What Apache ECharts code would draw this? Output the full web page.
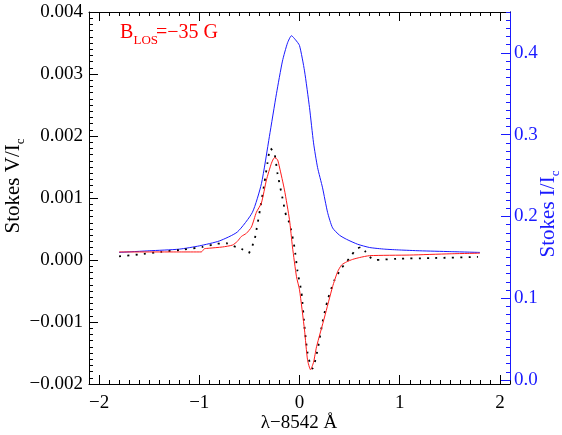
<!DOCTYPE html>
<html><head><meta charset="utf-8">
<script src="https://cdn.jsdelivr.net/npm/echarts@6/dist/echarts.min.js"></script>
<style>html,body{margin:0;padding:0;background:#fff}#c{width:562px;height:435px}</style>
</head><body><div id="c"></div>
<script>
// ---- data ----
const xTickValues = [-2, -1, 0, 1, 2];
const vTickValues = [-0.002, -0.001, 0.000, 0.001, 0.002, 0.003, 0.004];
const iTickValues = [0.0, 0.1, 0.2, 0.3, 0.4];

// Stokes I / Ic (blue, right axis)
const stokesIX = [-1.8, -1.5, -1.2, -1.0, -0.8, -0.62, -0.47, -0.38, -0.30, -0.23, -0.17, -0.12, -0.08, -0.04, 0.0, 0.05, 0.10, 0.14, 0.18, 0.23, 0.28, 0.33, 0.40, 0.47, 0.58, 0.70, 0.85, 1.0, 1.2, 1.5, 1.8];
const stokesIY = [0.156, 0.158, 0.160, 0.164, 0.170, 0.181, 0.205, 0.240, 0.298, 0.350, 0.390, 0.412, 0.421, 0.416, 0.409, 0.378, 0.333, 0.290, 0.260, 0.235, 0.205, 0.186, 0.177, 0.172, 0.166, 0.162, 0.160, 0.159, 0.158, 0.157, 0.156];

// Stokes V / Ic model (red solid)
const vModelX = [-1.8, -1.2, -0.98, -0.95, -0.9, -0.77, -0.67, -0.62, -0.58, -0.53, -0.48, -0.43, -0.38, -0.33, -0.28, -0.25, -0.22, -0.20, -0.15, -0.10, -0.07, -0.03, 0.00, 0.05, 0.08, 0.11, 0.14, 0.17, 0.25, 0.33, 0.38, 0.42, 0.47, 0.53, 0.60, 0.70, 1.1, 1.5, 1.8];
const vModelY = [0.00013, 0.00013, 0.00013, 0.00018, 0.00019, 0.00021, 0.00024, 0.00030, 0.00038, 0.00043, 0.00053, 0.00077, 0.00092, 0.00129, 0.00156, 0.00165, 0.00162, 0.00150, 0.00113, 0.00065, 0.00021, -0.00027, -0.00048, -0.00113, -0.00161, -0.00177, -0.00165, -0.00140, -0.00092, -0.00043, -0.00019, -0.00008, -0.00003, 0.00001, 0.00004, 0.00007, 0.00008, 0.00010, 0.00011];

// Stokes V / Ic observed (black dotted)
const vObsX = [-1.8, -1.6, -1.38, -1.15, -0.97, -0.83, -0.73, -0.67, -0.58, -0.51, -0.45, -0.43, -0.39, -0.35, -0.32, -0.29, -0.25, -0.22, -0.17, -0.13, -0.10, -0.05, -0.02, 0.02, 0.05, 0.08, 0.11, 0.13, 0.18, 0.23, 0.28, 0.35, 0.42, 0.47, 0.52, 0.57, 0.62, 0.66, 0.70, 0.75, 0.97, 1.3, 1.78];
const vObsY = [0.00006, 0.00009, 0.00013, 0.00017, 0.00021, 0.00026, 0.00027, 0.00023, 0.00018, 0.00011, 0.00032, 0.00048, 0.00085, 0.00124, 0.00156, 0.00180, 0.00172, 0.00140, 0.00100, 0.00069, 0.00060, 0.00020, -0.00018, -0.00053, -0.00108, -0.00150, -0.00170, -0.00175, -0.00145, -0.00100, -0.00065, -0.00032, -0.00013, -0.00003, 0.00008, 0.00018, 0.00021, 0.00013, 0.00005, 0.00000, 0.00002, 0.00003, 0.00005];

// ---- layout ----
const FONT = 'Liberation Serif';
const FS = 19;
const TFS = 21;
const L = 89, R = 52, T = 12, B = 51;
const W = 562 - L - R;
const pxPerUnit = W / 4.2;
const minus = s => String(s).replace('-', '\u2212');
const pair = (xs, ys) => xs.map((x, i) => [x, ys[i]]);
const near = (v, list) => list.some(t => Math.abs(t - v) < 1e-9);

const chart = echarts.init(document.getElementById('c'), null, {renderer: 'canvas'});
const black = '#000';
const blue = '#1a1aff';

const option = {
  animation: false,
  backgroundColor: '#fff',
  textStyle: {fontFamily: FONT},
  grid: [
    {left: L, right: R, top: T, bottom: B, outerBoundsMode: 'none', containLabel: false},
    {left: L + 0.1 * pxPerUnit, right: R + 0.1 * pxPerUnit, top: T, bottom: B, outerBoundsMode: 'none', containLabel: false},
    {left: L, right: R, top: T, bottom: 55, outerBoundsMode: 'none', containLabel: false}
  ],
  xAxis: [
    {gridIndex: 0, type: 'value', position: 'bottom', min: -2.1, max: 2.1,
     axisLine: {show: true, onZero: false, lineStyle: {color: black, width: 1}},
     axisTick: {show: false}, axisLabel: {show: false}, splitLine: {show: false}},
    {gridIndex: 0, type: 'value', position: 'top', min: -2.1, max: 2.1,
     axisLine: {show: true, onZero: false, lineStyle: {color: black, width: 1}},
     axisTick: {show: false}, axisLabel: {show: false}, splitLine: {show: false}},
    {gridIndex: 1, type: 'value', position: 'bottom', min: -2, max: 2, interval: 1,
     axisLine: {show: false, onZero: false},
     axisTick: {show: true, inside: true, length: 9, lineStyle: {color: black, width: 1}},
     minorTick: {show: true, splitNumber: 10, length: 4, lineStyle: {color: black, width: 1}},
     axisLabel: {show: true, margin: 10, color: black, fontFamily: FONT, fontSize: FS,
       formatter: v => near(v, xTickValues) ? minus(Math.round(v)) : ''},
     splitLine: {show: false}, minorSplitLine: {show: false}},
    {gridIndex: 1, type: 'value', position: 'top', min: -2, max: 2, interval: 1,
     axisLine: {show: false, onZero: false},
     axisTick: {show: true, inside: true, length: 9, lineStyle: {color: black, width: 1}},
     minorTick: {show: true, splitNumber: 10, length: 4, lineStyle: {color: black, width: 1}},
     axisLabel: {show: false}, splitLine: {show: false}, minorSplitLine: {show: false}},
    {gridIndex: 2, type: 'value', min: -2.1, max: 2.1, show: false}
  ],
  yAxis: [
    {gridIndex: 0, type: 'value', position: 'left', min: -0.002, max: 0.004, interval: 0.001,
     axisLine: {show: true, onZero: false, lineStyle: {color: black, width: 1}},
     axisTick: {show: true, inside: true, length: 9, lineStyle: {color: black, width: 1}},
     minorTick: {show: true, splitNumber: 10, length: 4, lineStyle: {color: black, width: 1}},
     axisLabel: {show: true, margin: 6, color: black, fontFamily: FONT, fontSize: FS,
       formatter: v => near(v, vTickValues) ? minus(v.toFixed(3)) : ''},
     splitLine: {show: false}, minorSplitLine: {show: false}},
    {gridIndex: 0, type: 'value', position: 'right', min: -0.002, max: 0.004,
     axisLine: {show: true, onZero: false, lineStyle: {color: black, width: 1}},
     axisTick: {show: false}, axisLabel: {show: false}, splitLine: {show: false}},
    {gridIndex: 1, type: 'value', min: 0, max: 1, show: false},
    {gridIndex: 2, type: 'value', position: 'right', min: 0, max: 0.45, interval: 0.1,
     axisLine: {show: true, onZero: false, lineStyle: {color: blue, width: 1}},
     axisTick: {show: true, inside: true, length: 9, lineStyle: {color: blue, width: 1}},
     axisLabel: {show: true, margin: 4, color: blue, fontFamily: FONT, fontSize: FS, showMaxLabel: false,
       formatter: v => near(v, iTickValues) ? v.toFixed(1) : ''},
     splitLine: {show: false}},
    {gridIndex: 2, type: 'value', position: 'right', min: 0, max: 0.45, interval: 0.01,
     axisLine: {show: false, onZero: false},
     axisTick: {show: true, inside: true, length: 4, lineStyle: {color: blue, width: 1}},
     axisLabel: {show: false}, splitLine: {show: false}}
  ],
  series: [
    {type: 'line', name: 'I', xAxisIndex: 4, yAxisIndex: 3, data: pair(stokesIX, stokesIY),
     showSymbol: false, smooth: 0.2, lineStyle: {color: blue, width: 1}, z: 3},
    {type: 'line', name: 'V obs', xAxisIndex: 0, yAxisIndex: 0, data: pair(vObsX, vObsY),
     showSymbol: false, smooth: 0.2, lineStyle: {color: black, width: 1.8, type: [2, 6.3]}, z: 4},
    {type: 'line', name: 'V fit', xAxisIndex: 0, yAxisIndex: 0, data: pair(vModelX, vModelY),
     showSymbol: false, smooth: 0.2, lineStyle: {color: '#ff1a1a', width: 1}, z: 5}
  ],
  graphic: [
    {type: 'text', x: 120, y: 33, style: {text: 'B', fill: 'red', font: '20px "Liberation Serif"', align: 'left', verticalAlign: 'middle'}},
    {type: 'text', x: 133.5, y: 41, style: {text: 'LOS', fill: 'red', font: '13px "Liberation Serif"', align: 'left', verticalAlign: 'middle'}},
    {type: 'text', x: 156, y: 33, style: {text: '=\u221235 G', fill: 'red', font: '20px "Liberation Serif"', align: 'left', verticalAlign: 'middle'}},
    {type: 'text', x: 299, y: 423, style: {text: '\u03bb\u22128542 \u00c5', fill: black, font: FS + 'px "Liberation Serif"', align: 'center', verticalAlign: 'middle'}},
    {type: 'text', x: 13, y: 186, rotation: Math.PI / 2,
     style: {text: '{a|Stokes V/I}{s|c}', align: 'center', verticalAlign: 'middle',
       rich: {a: {fontFamily: FONT, fontSize: TFS, lineHeight: 28, fill: black, color: black, verticalAlign: 'middle'},
              s: {fontFamily: FONT, fontSize: 13, lineHeight: 13, fill: black, color: black, verticalAlign: 'bottom'}}}},
    {type: 'text', x: 548, y: 214, rotation: Math.PI / 2,
     style: {text: '{a|Stokes I/I}{s|c}', align: 'center', verticalAlign: 'middle',
       rich: {a: {fontFamily: FONT, fontSize: TFS, lineHeight: 28, fill: blue, color: blue, verticalAlign: 'middle'},
              s: {fontFamily: FONT, fontSize: 13, lineHeight: 13, fill: blue, color: blue, verticalAlign: 'bottom'}}}}
  ]
};
chart.setOption(option);
</script>
</body></html>
